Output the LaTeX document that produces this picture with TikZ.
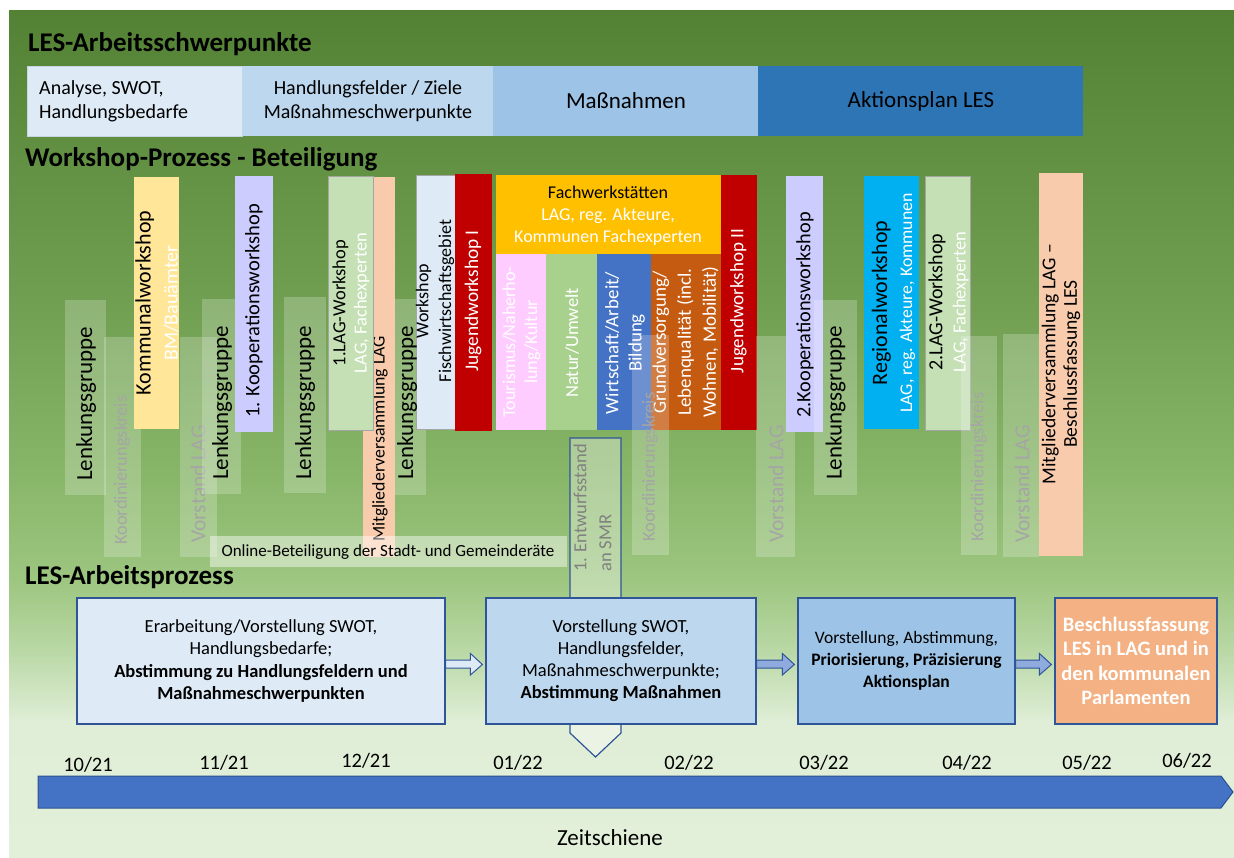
\documentclass[tikz,border=0pt]{standalone}
\usepackage{fontspec}
\setmainfont{Carlito}
\usetikzlibrary{calc}

\definecolor{bgdark}{RGB}{84,130,53}
\definecolor{bgg}{RGB}{112,159,82}
\definecolor{bgh}{RGB}{137,183,106}
\definecolor{bgi}{RGB}{157,198,128}
\definecolor{bgj}{RGB}{185,216,165}
\definecolor{bgk}{RGB}{224,238,215}
\definecolor{bgl}{RGB}{226,239,217}
\definecolor{paleblue}{RGB}{222,235,247}
\definecolor{lightblue}{RGB}{189,215,238}
\definecolor{midblue}{RGB}{157,195,230}
\definecolor{strongblue}{RGB}{46,117,182}
\definecolor{yellowbox}{RGB}{255,230,153}
\definecolor{lavender}{RGB}{204,204,255}
\definecolor{lgreen}{RGB}{197,224,180}
\definecolor{peach}{RGB}{248,203,173}
\definecolor{darkred}{RGB}{192,0,0}
\definecolor{orangebox}{RGB}{255,192,0}
\definecolor{pinkbox}{RGB}{255,204,255}
\definecolor{greenbox}{RGB}{169,209,142}
\definecolor{bluebox}{RGB}{68,114,196}
\definecolor{rustbox}{RGB}{197,90,17}
\definecolor{cyanbox}{RGB}{0,176,240}
\definecolor{salmon}{RGB}{244,177,131}
\definecolor{lineblue}{RGB}{47,85,151}
\definecolor{arrowblue}{RGB}{143,170,220}
\definecolor{greytext}{RGB}{165,165,165}

\pgfdeclareverticalshading{bgshade}{100bp}{color(0bp)=(bgl); color(25bp)=(bgl); color(33bp)=(bgk); color(37.3bp)=(bgj); color(41.4bp)=(bgi); color(47.3bp)=(bgh); color(57.9bp)=(bgg); color(75bp)=(bgdark); color(100bp)=(bgdark)}

\newcommand{\fsz}[2]{\fontsize{#1}{#2}\selectfont}
\newcommand{\blockarrow}[3]{%
  \draw[arrowline, fill=#3] ($(#1.east)+(0,-1)$) -- ($(#2.west)+(-15,-1)$) -- ($(#2.west)+(-15,-7.5)$) -- ($(#2.west)+(-3,3.5)$) -- ($(#2.west)+(-15,14)$) -- ($(#2.west)+(-15,7)$) -- ($(#1.east)+(0,7)$) -- cycle;}

\begin{document}
\begin{tikzpicture}[x=1pt, y=-1pt,
    glass/.style={fill=white, fill opacity=0.22},
    vlabel/.style={rotate=90, inner sep=0pt, align=center},
    greylabel/.style={vlabel, anchor=west, text=greytext},
    greyframe/.style={draw=greytext, line width=0.8pt},
    procbox/.style={draw=lineblue, line width=1.2pt, align=center, inner sep=0pt, minimum height=126pt},
    arrowline/.style={draw=lineblue, line width=1pt},
    sectitle/.style={anchor=base west, inner sep=0pt, font=\fsz{27}{32}\bfseries},
    datelabel/.style={inner sep=0pt, font=\fsz{20.5}{24}}]
    \useasboundingbox (0,0) rectangle (1234,858);
    \fill[white] (0,0) rectangle (1234,858);
    \shade[shading=bgshade] (9,11) rectangle (1234,858);

    % LES-Arbeitsschwerpunkte
    \node[sectitle] (tSchwer) at (28,52) {LES-Arbeitsschwerpunkte};
    \filldraw[fill=paleblue, draw={rgb,255:red,200;green,212;blue,224}, line width=0.8pt] (27,66) rectangle (242,136);
    \fill[lightblue] (242,66) rectangle (493,136);
    \fill[midblue] (493,66) rectangle (758,136);
    \fill[strongblue] (758,66) rectangle (1083,136);
    \node[anchor=west, align=left, inner sep=0pt, font=\fsz{20}{24}] (sAnalyse) at (39,101) {Analyse, SWOT,\\Handlungsbedarfe};
    \node[align=center, inner sep=0pt, font=\fsz{20}{24}] (sFelder) at (368,101) {Handlungsfelder / Ziele\\Maßnahmeschwerpunkte};
    \node[inner sep=0pt, font=\fsz{23}{27}] (sMass) at (626,101) {Maßnahmen};
    \node[inner sep=0pt, font=\fsz{23}{27}] (sAktion) at (921,101) {Aktionsplan LES};

    % Workshop-Prozess
    \node[sectitle] (tWork) at (25,167) {Workshop-Prozess - Beteiligung};

    \fill[glass] (65,300) rectangle (106,495);
    \node[vlabel, font=\fsz{23}{28}] (lg1) at (86,404) {Lenkungsgruppe};
    \fill[glass] (104,337) rectangle (141,557);
    \node[greylabel, font=\fsz{18.5}{22}] (kk1) at (122,545) {Koordinierungskreis};
    \fill[yellowbox] (134,177) rectangle (179,429);
    \node[vlabel, font=\fsz{22}{27}] (kw) at (157,303) {Kommunalworkshop\\{\color{white}\fsz{20}{24}BM/Bauämter}};
    \fill[glass] (180,337) rectangle (217,557);
    \node[greylabel, font=\fsz{21.5}{26}] (vl1) at (198,543) {Vorstand LAG};
    \fill[glass] (202,299) rectangle (241,494);
    \node[vlabel, font=\fsz{23}{28}] (lg2) at (222,403) {Lenkungsgruppe};
    \fill[lavender] (235,176) rectangle (273,432);
    \node[vlabel, font=\fsz{20.5}{25}] (kp1) at (254,311) {1. Kooperationsworkshop};
    \fill[glass] (284,297) rectangle (326,493);
    \node[vlabel, font=\fsz{23}{28}] (lg3) at (305,403) {Lenkungsgruppe};

    \fill[peach] (363,177) rectangle (395,557);
    \node[vlabel, anchor=west, font=\fsz{17.8}{22}] (mv1) at (380,542) {Mitgliederversammlung LAG};
    \filldraw[fill=lgreen, greyframe] (328,176) rectangle (373,430);
    \node[vlabel, font=\fsz{18.5}{21.3}] (lw1) at (351,303) {1.LAG-Workshop\\{\color{white}LAG, Fachexperten}};
    \fill[glass] (395,299) rectangle (426,495);
    \filldraw[fill=paleblue, greyframe] (416,175) rectangle (455,429);
    \node[vlabel, font=\fsz{23}{28}] (lg4) at (407,403) {Lenkungsgruppe};
    \node[vlabel, font=\fsz{18}{22.7}] (wf) at (435,301) {Workshop\\Fischwirtschaftsgebiet};
    \fill[darkred] (455,174) rectangle (492,431);
    \node[vlabel, text=white, font=\fsz{19.3}{23}] (jw1) at (473,301) {Jugendworkshop I};

    %Fachwerkstaetten
    \fill[orangebox] (496,175) rectangle (721,254);
    \node[align=center, inner sep=0pt, font=\fsz{18}{21.8}] (fw) at (608,216) {Fachwerkstätten\\{\color{white}LAG, reg. Akteure,}\\{\color{white}Kommunen Fachexperten}};
    \fill[pinkbox] (496,254) rectangle (546,430);
    \node[vlabel, text=white, font=\fsz{18}{22}] (tour) at (521.5,342) {Tourismus/Naherho-\\lung/Kultur};
    \fill[greenbox] (546,254) rectangle (597,430);
    \node[vlabel, text=white, font=\fsz{18.5}{22}] (natur) at (572,343) {Natur/Umwelt};
    \fill[bluebox] (597,254) rectangle (651,430);
    \node[vlabel, text=white, font=\fsz{19}{23.4}] (wirt) at (625,343) {Wirtschaft/Arbeit/\\Bildung};
    \fill[rustbox] (651,254) rectangle (721,430);
    \node[vlabel, text=white, font=\fsz{19}{25}] (grund) at (685.5,342) {Grundversorgung/\\Lebenqualität (incl.\\Wohnen, Mobilität)};
    \fill[darkred] (721,175) rectangle (757,430);
    \node[vlabel, text=white, font=\fsz{19}{23}] (jw2) at (738.5,301) {Jugendworkshop II};
    \fill[glass] (632,335) rectangle (669,555);
    \node[greylabel, font=\fsz{18.5}{22}] (kk2) at (650,542) {Koordinierungskreis};

    \fill[white, fill opacity=0.45] (210,536) rectangle (567,567);
    \node[inner sep=0pt, font=\fsz{17}{20}] (online) at (388,552) {Online-Beteiligung der Stadt- und Gemeinderäte};

    %#2
    \fill[glass] (756,336) rectangle (795,557);
    \node[greylabel, font=\fsz{21.5}{26}] (vl2) at (776,543) {Vorstand LAG};
    \fill[lavender] (786,176) rectangle (823,432);
    \node[vlabel, font=\fsz{20.3}{25}] (kp2) at (805,315) {2.Kooperationsworkshop};
    \fill[glass] (814,300) rectangle (857,495);
    \node[vlabel, font=\fsz{23}{28}] (lg5) at (835.5,403) {Lenkungsgruppe};
    \fill[cyanbox] (864,176) rectangle (919,429);
    \node[vlabel, font=\fsz{22}{25}] (rw) at (893.5,303) {Regionalworkshop\\{\color{white}\fsz{17.8}{21}LAG, reg. Akteure, Kommunen}};
    \filldraw[fill=lgreen, greyframe] (925,176) rectangle (970,430);
    \node[vlabel, font=\fsz{20}{23.3}] (lw2) at (948.5,302) {2.LAG-Workshop\\{\color{white}\fsz{18.5}{22}LAG, Fachexperten}};
    \fill[glass] (961,336) rectangle (997,555);
    \node[greylabel, font=\fsz{18.5}{22}] (kk3) at (978.5,542) {Koordinierungskreis};
    \fill[glass] (1003,334) rectangle (1039,557);
    \node[greylabel, font=\fsz{21.5}{26}] (vl3) at (1022,543) {Vorstand LAG};
    \fill[peach] (1039,173) rectangle (1083,556);
    \node[vlabel, font=\fsz{19.6}{21.7}] (mv2) at (1061,364) {Mitgliederversammlung LAG –\\Beschlussfassung LES};

    % LES-Arbeitsprozess
    \node[sectitle] (tProz) at (25,584) {LES-Arbeitsprozess};
    \draw[arrowline, line width=1.2pt, fill=white, fill opacity=0.35] (570,438) -- (621,438) -- (621,733) -- (595.5,757) -- (570,733) -- cycle;
    \node[vlabel, anchor=west, align=left, text={rgb,255:red,128;green,128;blue,128}, font=\fsz{18.5}{25}] (entw) at (592.5,572) {1. Entwurfsstand\\an SMR};

    \node[procbox, fill=paleblue, minimum width=368pt, font=\fsz{18.5}{22.5}] (pA) at (261,661) {Erarbeitung/Vorstellung SWOT,\\Handlungsbedarfe;\\\textbf{Abstimmung zu Handlungsfeldern und}\\\textbf{Maßnahmeschwerpunkten}};
    \node[procbox, fill=lightblue, minimum width=270pt, font=\fsz{18.5}{22}] (pB) at (621,661) {Vorstellung SWOT,\\Handlungsfelder,\\Maßnahmeschwerpunkte;\\\textbf{Abstimmung Maßnahmen}};
    \node[procbox, fill=midblue, minimum width=217pt, font=\fsz{17.5}{22}] (pC) at (906.5,661) {Vorstellung, Abstimmung,\\\textbf{Priorisierung, Präzisierung}\\\textbf{Aktionsplan}};
    \node[procbox, fill=salmon, minimum width=162pt, text=white, font=\fsz{20.5}{24.5}\bfseries] (pD) at (1136,661) {Beschlussfassung\\LES in LAG und in\\den kommunalen\\Parlamenten};
    \blockarrow{pA}{pB}{paleblue}
    \blockarrow{pB}{pC}{arrowblue}
    \blockarrow{pC}{pD}{arrowblue}

    % Zeitschiene
    \draw[fill=bluebox, draw={rgb,255:red,47;green,82;blue,143}, line width=1pt] (38,776) -- (1221,776) -- (1233,792) -- (1221,808) -- (38,808) -- cycle;
    \foreach \x/\y/\lbl [count=\i] in {88/765/{10/21}, 224/763/{11/21}, 366/761/{12/21}, 518/763/{01/22}, 689/763/{02/22}, 824/763/{03/22}, 967/763/{04/22}, 1087/763/{05/22}, 1187/761/{06/22}}
        \node[datelabel] (date\i) at (\x,\y) {\lbl};
    \node[inner sep=0pt, font=\fsz{23}{27}] (zeit) at (610,838) {Zeitschiene};
\end{tikzpicture}
\end{document}
